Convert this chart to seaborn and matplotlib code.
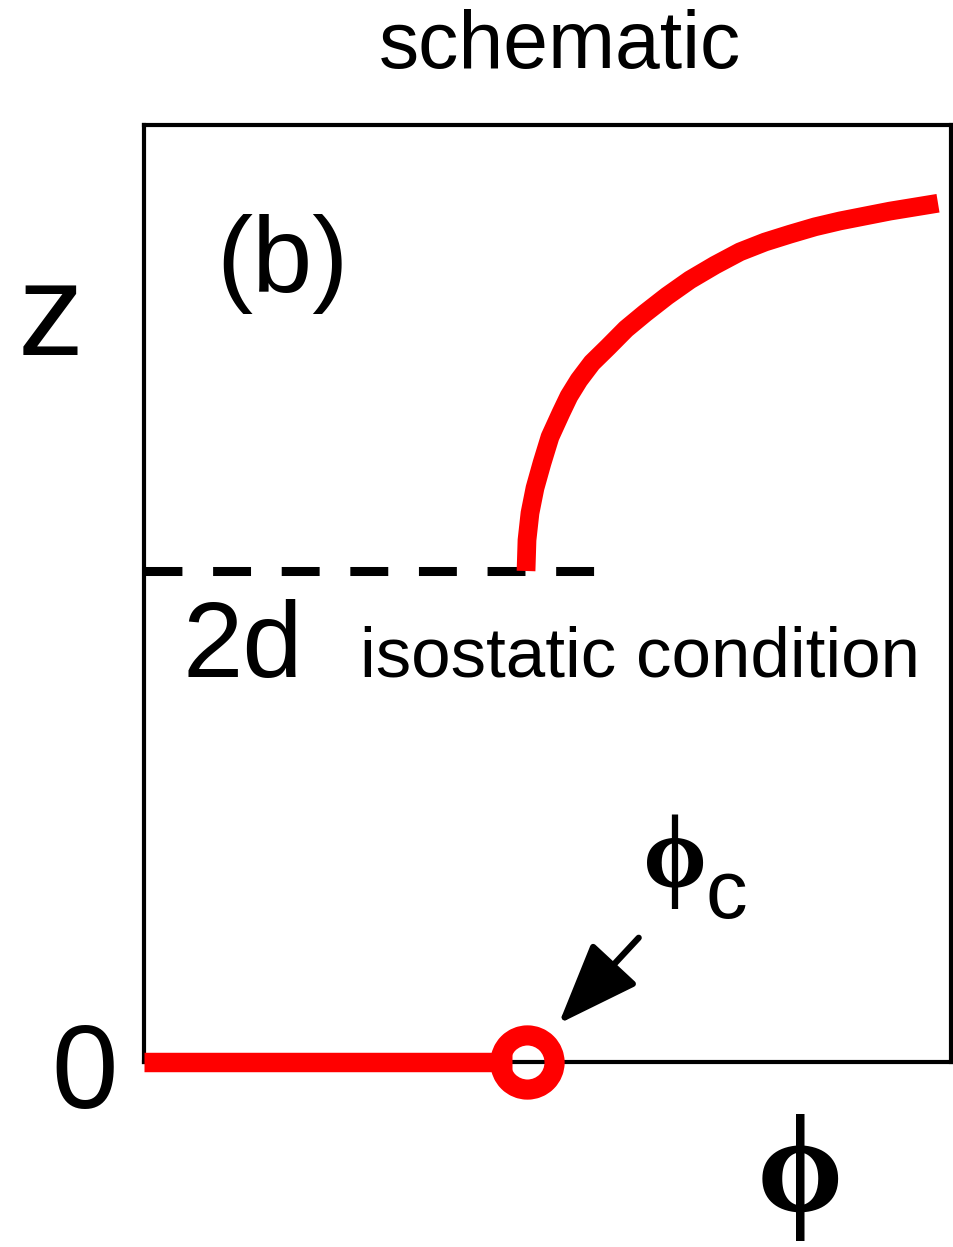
import matplotlib
matplotlib.use("Agg")
import matplotlib.pyplot as plt
import seaborn as sns
import numpy as np
import pandas as pd

# ---- data (x in units of axis width, z in units of 2d) ----
phi_c = 0.474
flat_phi = [0.0, 0.456]
flat_z = [0.0, 0.0]
curve_phi = [0.4734, 0.4746, 0.4783, 0.4845, 0.4932, 0.5031, 0.5167, 0.5266, 0.5390,
             0.5551, 0.5750, 0.5973, 0.6208, 0.6481, 0.6766, 0.7076, 0.7385, 0.7695,
             0.8005, 0.8315, 0.8625, 0.8934, 0.9244, 0.9542, 0.9839]
curve_z = [1.000, 1.063, 1.118, 1.169, 1.220, 1.273, 1.322, 1.356, 1.389,
           1.424, 1.456, 1.493, 1.525, 1.560, 1.593, 1.623, 1.650, 1.670,
           1.686, 1.701, 1.713, 1.723, 1.733, 1.741, 1.749]
iso_z = 1.0
iso_phi = [0.0, 0.560]

title_text = "schematic"
panel_label = "(b)"
ylabel_text = "z"
xlabel_text = "ϕ"
zero_label = "0"
twod_label = "2d"
iso_label = "isostatic condition"

W, H = 954, 1247
sns.set_theme(style="white")
plt.rcParams["font.family"] = ["Liberation Sans", "DejaVu Sans"]
plt.rcParams["text.color"] = "black"

fig = plt.figure(figsize=(W / 100, H / 100), dpi=100)
ax = fig.add_axes([144 / W, 1 - 1062 / H, (951 - 144) / W, (1062 - 125) / H])
ax.set_xlim(0, 1)
ax.set_ylim(0, (1062 - 125) / 491)
ax.set_xticks([])
ax.set_yticks([])
for s in ax.spines.values():
    s.set_color("black")
    s.set_linewidth(3.0)
    s.set_visible(True)

red = "#ff0000"
curve_df = pd.DataFrame({"phi": curve_phi, "z": curve_z})
sns.lineplot(data=curve_df, x="phi", y="z", color=red, linewidth=13.5, sort=False,
             ax=ax, zorder=5, solid_capstyle="butt", solid_joinstyle="round")
flat_df = pd.DataFrame({"phi": flat_phi, "z": flat_z})
sns.lineplot(data=flat_df, x="phi", y="z", color=red, linewidth=14, sort=False,
             ax=ax, zorder=5, solid_capstyle="butt")
for l in ax.lines:
    l.set_clip_on(False)

ax.plot([phi_c], [0.0], marker="o", markersize=39, markerfacecolor="none",
        markeredgecolor=red, markeredgewidth=14.5, linestyle="none", zorder=6, clip_on=False)

ax.plot(iso_phi, [iso_z, iso_z], color="black", linewidth=6.5, dashes=(4.2, 3.4),
        dash_capstyle="butt", zorder=4)

# arrow pointing to phi_c
ax.annotate("", xy=(phi_c + 0.040, 0.078), xytext=(phi_c + 0.139, 0.253),
            arrowprops=dict(arrowstyle="-|>,head_length=1.7,head_width=0.65",
                            color="black", lw=4.5, shrinkA=0, shrinkB=0,
                            mutation_scale=30), zorder=7)

def fp(x, y):
    return x / W, 1 - y / H

fig.text(*fp(560, 68), title_text, ha="center", va="baseline", fontsize=58)
fig.text(*fp(282, 292), panel_label, ha="center", va="baseline", fontsize=78)
fig.text(*fp(51, 355), ylabel_text, ha="center", va="baseline", fontsize=95)
fig.text(*fp(85, 1108), zero_label, ha="center", va="baseline", fontsize=86)
fig.text(*fp(183, 677), twod_label, ha="left", va="baseline", fontsize=78)
fig.text(*fp(360, 676), iso_label, ha="left", va="baseline", fontsize=51)

serif = ["Liberation Serif", "DejaVu Serif"]
fig.text(*fp(800, 1211), xlabel_text, ha="center", va="baseline", fontsize=100,
         family=serif, fontweight="bold")
fig.text(*fp(675, 887), xlabel_text, ha="center", va="baseline", fontsize=74,
         family=serif, fontweight="bold")
fig.text(*fp(706, 918), "c", ha="left", va="baseline", fontsize=60)

fig.savefig("out.png", dpi=100)
